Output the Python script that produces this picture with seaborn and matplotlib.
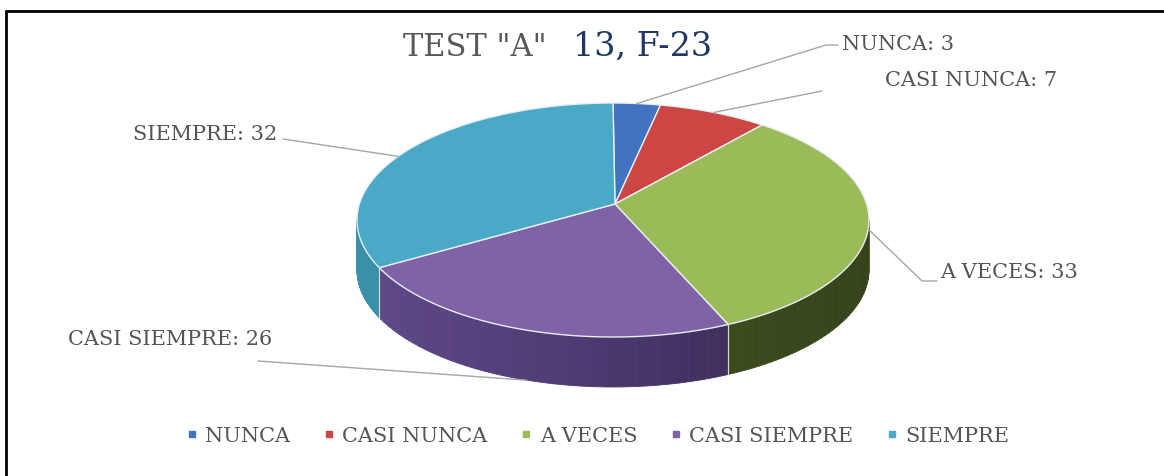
import numpy as np
import seaborn as sns
import matplotlib.pyplot as plt
from matplotlib.patches import Polygon
from matplotlib.lines import Line2D
from matplotlib.colors import to_rgb

# data
categories = ['NUNCA', 'CASI NUNCA', 'A VECES', 'CASI SIEMPRE', 'SIEMPRE']
values = [3, 7, 33, 26, 32]
top_colors = ['#4173c2', '#cc4743', '#9bbb59', '#8063a6', '#4aa9c6']
side_light = ['#2f5597', '#943634', '#4f6228', '#604a8b', '#3b90aa']
side_dark = ['#1f3864', '#632523', '#34431a', '#33264f', '#2b6f85']

# label layout (pixel coords): text position, alignment, elbow of leader line
label_pos = [(842, 44, 'left'), (885, 80, 'left'), (940, 273, 'left'),
             (272, 340, 'right'), (277, 135, 'right')]
leader_end = [[(826, 46), (838, 46)], [(822, 92)], [(922, 282), (937, 282)],
              [(258, 362)], [(283, 140)]]

sns.set_theme(style="white")
plt.rcParams['font.family'] = ['DejaVu Serif']

W, H = 1164, 477
fig = plt.figure(figsize=(W / 100, H / 100), dpi=100)
fig.patch.set_edgecolor('white')
fig.patch.set_linewidth(0)
ax = fig.add_axes([0, 0, 1, 1])
ax.set_xlim(0, W)
ax.set_ylim(H, 0)
ax.axis('off')
ax.set_frame_on(False)

# pie geometry
cx, cy, rx, ry, depth = 613, 221, 256, 117, 50
apex = (cx + 2, cy - 16)


def rim(t, dz=0):
    return cx + rx * np.cos(t), cy - ry * np.sin(t) + dz


total = sum(values)
cum = np.concatenate([[0], np.cumsum(values)]) / total * 2 * np.pi
t_start = np.pi / 2 - cum[:-1]
t_end = np.pi / 2 - cum[1:]

# side faces (front half only)
for i in range(len(values)):
    lo, hi = max(t_end[i], -np.pi), min(t_start[i], 0)
    if lo >= hi:
        continue
    ts = np.linspace(hi, lo, 40)
    c1, c2 = np.array(to_rgb(side_light[i])), np.array(to_rgb(side_dark[i]))
    for a, b in zip(ts[:-1], ts[1:]):
        f = (np.cos((a + b) / 2) + 1) / 2
        col = c1 * (1 - f) + c2 * f
        pts = [rim(a), rim(b), rim(b, depth), rim(a, depth)]
        ax.add_patch(Polygon(pts, closed=True, facecolor=col, edgecolor=col, lw=0.6))
    # boundary highlight on the side
    for t in (hi, lo):
        if -np.pi < t < 0:
            x0, y0 = rim(t)
            ax.plot([x0, x0], [y0, y0 + depth], color='#d9d9d9', lw=0.8)

# top faces
for i in range(len(values)):
    ts = np.linspace(t_start[i], t_end[i], 100)
    pts = [apex] + [rim(t) for t in ts]
    ax.add_patch(Polygon(pts, closed=True, facecolor=top_colors[i],
                         edgecolor='#e8eef5', lw=1.0))

# leader lines and labels
for i in range(len(values)):
    tm = (t_start[i] + t_end[i]) / 2
    dz = depth if np.sin(tm) < -0.5 else 0
    sx, sy = rim(tm, dz)
    path = [(sx, sy)] + leader_end[i]
    ax.plot([p[0] for p in path], [p[1] for p in path], color='#a6a6a6', lw=1.0)
    x, y, ha = label_pos[i]
    ax.text(x, y, f'{categories[i]}: {values[i]}', ha=ha, va='center',
            fontsize=15, color='#555555')

# title
ax.text(547, 48, 'TEST "A"', ha='right', va='center', fontsize=22, color='#595959')
ax.text(573, 47, '13, F-23', ha='left', va='center', fontsize=24, color='#1f3864')

# legend
handles = [Line2D([], [], marker='s', ls='', color=c, markersize=5) for c in top_colors]
leg = ax.legend(handles, categories, loc='center', bbox_to_anchor=(598 / W, 1 - 437 / H),
                ncol=5, frameon=False, fontsize=15, handlelength=0.5,
                handletextpad=0.4, columnspacing=1.6)
for txt in leg.get_texts():
    txt.set_color('#555555')

# frame lines
fig.add_artist(Line2D([6 / W, 1], [1 - 12 / H, 1 - 12 / H], color='black', lw=2))
fig.add_artist(Line2D([6 / W, 6 / W], [0, 1 - 12 / H], color='black', lw=2))

fig.savefig('out.png', dpi=100, facecolor='white', edgecolor='white')
